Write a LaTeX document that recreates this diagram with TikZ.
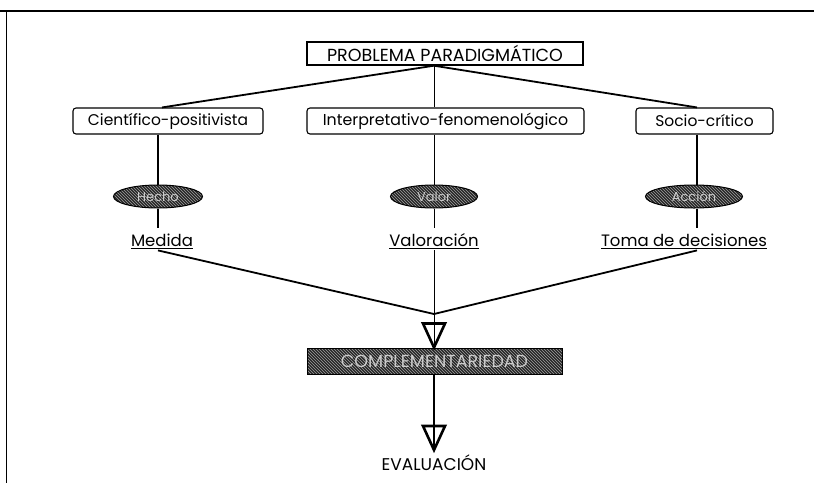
\documentclass[tikz,border=0pt]{standalone}
\usepackage{fontspec}
\setmainfont{Poppins}
\usetikzlibrary{shapes.geometric,patterns}
\newcommand{\fsz}[1]{\fontsize{#1}{#1}\selectfont}
\begin{document}
\begin{tikzpicture}[x=1pt,y=-1pt,
  headbox/.style={font=\fsz{17.5},draw,line width=1.4pt,minimum width=276pt,minimum height=23pt,inner sep=0pt},
  parbox/.style={font=\fsz{15.5},draw,line width=1.1pt,rounded corners=3pt,minimum height=26pt,inner sep=0pt},
  keyoval/.style={ellipse,draw=black,line width=1pt,preaction={fill=black!85},
    pattern=north west lines,pattern color=gray!75,minimum height=23pt,inner sep=0pt,
    text=gray!40,font=\fsz{13}},
  concept/.style={font=\fsz{16.5},inner sep=0pt,anchor=north,text height=18pt,text depth=4pt},
  darkbar/.style={draw=black,line width=1pt,preaction={fill=black!85},
    pattern=north west lines,pattern color=gray!75,minimum width=255pt,minimum height=26pt,
    inner sep=0pt,text=gray!40,font=\fsz{17.5}},
  link/.style={line width=1.8pt},
  thinlink/.style={line width=0.9pt},
  arrowtri/.style={draw=black,line width=2.6pt,fill=white,line join=miter},
  frameline/.style={line width=2pt}
]
\useasboundingbox (0,0) rectangle (814,483);

% page frame
\draw[frameline] (0,11) -- (814,11);
\draw[line width=1pt] (6,11) -- (6,483);

% top problem
\node[headbox] (top) at (445,53.5) {PROBLEMA PARADIGMÁTICO};

% paradigms
\node[parbox,minimum width=190pt] (cp) at (168,121) {Científico-positivista};
\node[parbox,minimum width=277pt,font=\fsz{15.8}] (ifn) at (445.5,121) {Interpretativo-fenomenológico};
\node[parbox,minimum width=137pt] (sc) at (704.5,121) {Socio-crítico};

% key ovals
\node[keyoval,minimum width=89pt] (e1) at (158,196.5) {Hecho};
\node[keyoval,minimum width=87pt] (e2) at (434,196.5) {Valor};
\node[keyoval,minimum width=97pt] (e3) at (694,196.5) {Acción};

% resulting concepts
\node[concept] (m1) at (162,228) {\underline{Medida}};
\node[concept] (m2) at (434,228) {\underline{Valoración}};
\node[concept] (m3) at (684,228) {\underline{Toma de decisiones}};

% complementarity bar and evaluation
\node[darkbar] (bar) at (434.5,361) {COMPLEMENTARIEDAD};
\node[font=\fsz{17},inner sep=0pt,anchor=north,text height=20pt,text depth=0pt] (ev) at (434,450) {EVALUACIÓN};

\coordinate (join) at (434,314);

% arrow heads
\draw[arrowtri] (bar.north -| e2) -- ++(-11,-24) -- ++(22,0) -- cycle;
\draw[arrowtri] (ev.north) -- ++(-11,-24) -- ++(22,0) -- cycle;

% connectors from the problem to the paradigms
\draw[link] (top.south -| e2) -- (cp.north -| 162,0);
\draw[link] (top.south -| e2) -- (sc.north -| 697,0);
\draw[thinlink] (top.south -| e2) -- (ifn.north -| e2);

% paradigm -> key -> concept
\draw[link] (cp.south -| e1) -- (e1.north);
\draw[link] (e1.south) -- (m1.north -| e1);
\draw[thinlink] (ifn.south -| e2) -- (e2.north);
\draw[thinlink] (e2.south) -- (m2.north -| e2);
\draw[link] (sc.south -| 697,0) -- (e3.north -| 697,0);
\draw[link] (e3.south -| 697,0) -- (m3.north -| 697,0);

% concepts converge
\draw[link] (m1.south -| e1) -- (join);
\draw[link] (m3.south -| 697,0) -- (join);
\draw[thinlink] (m2.south) -- (bar.north -| e2);
\draw[line width=1.2pt] (bar.south -| e2) -- (ev.north);
\end{tikzpicture}
\end{document}
